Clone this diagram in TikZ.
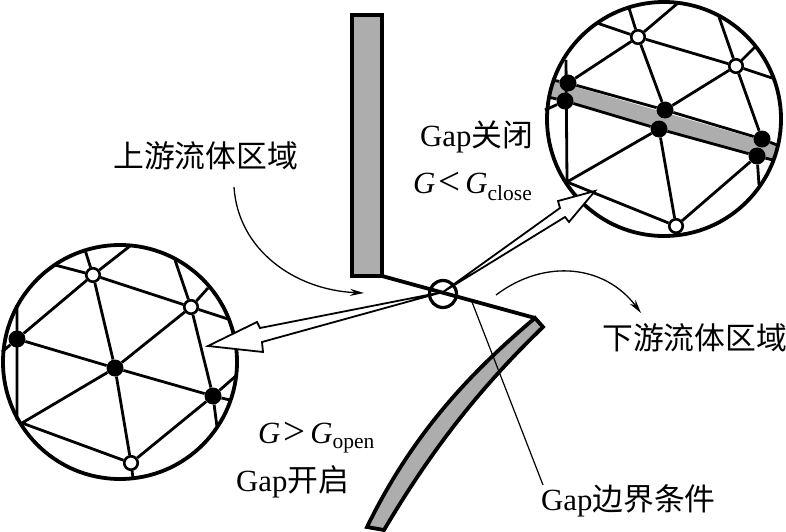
\documentclass[tikz,border=0pt]{standalone}
\usepackage{fontspec}
\setmainfont{Liberation Serif}
\newfontfamily\cjk{Noto Sans CJK SC}
\usetikzlibrary{arrows.meta}
\newcommand{\bigsz}{\fontsize{30.8}{32}\selectfont}
\newcommand{\subsz}{\fontsize{21.5}{24}\selectfont}
\newcommand{\relsym}[1]{\hspace{3pt}\raisebox{-1.5pt}{\fontsize{39}{39}\selectfont #1}\hspace{5pt}}
\tikzset{
  x=1pt,y=-1pt,
  openv/.style={circle,draw=black,fill=white,line width=2.6pt,minimum size=13.5pt,inner sep=0pt},
  blackv/.style={circle,fill=black,minimum size=17pt,inner sep=0pt},
  ring/.style={draw=black,line width=3.8pt},
  mesh/.style={draw=black,line width=2.8pt},
  wall/.style={draw=black,line width=3.8pt,fill=black!32,line join=miter},
  flow/.style={draw=black,line width=1.3pt,-{Stealth[length=14pt,width=7pt]}},
  hollow/.style={draw=black,line width=1.8pt,fill=white,line join=miter},
  label/.style={anchor=base west,inner sep=0pt,font=\bigsz},
}
\begin{document}
\begin{tikzpicture}
\useasboundingbox (0,0) rectangle (786,532);
% ---------- right detail circle
\fill[black!32] (552,80) -- (777,145) -- (773,160) -- (548,97) -- cycle;
\node[openv] (a1) at (638,37) {};
\node[openv] (a2) at (736,66) {};
\node[openv] (a3) at (676,226) {};
\node[blackv] (b1) at (568,83) {};
\node[blackv] (b2) at (565,101) {};
\node[blackv] (b3) at (665,110) {};
\node[blackv] (b4) at (659,129) {};
\node[blackv] (b5) at (762,139) {};
\node[blackv] (b6) at (757,156) {};
\coordinate (ac1) at (597,23);
\coordinate (ac2) at (629,8);
\coordinate (ac3) at (678,3);
\coordinate (ac4) at (719,17);
\coordinate (ac5) at (755,47);
\coordinate (ac6) at (772,78);
\coordinate (ac7) at (566,60);
\coordinate (ac8) at (567,182);
\coordinate (ac9) at (759,185);
\coordinate (ac10) at (545,110);
\coordinate (ac11) at (674,236);
\draw[mesh] (a1)--(ac1) (a1)--(ac2) (a1)--(ac3) (a1)--(a2) (a1)--(b1) (a1)--(b3);
\draw[mesh] (a2)--(ac4) (a2)--(ac5) (a2)--(ac6) (a2)--(b3) (a2)--(b5);
\draw[mesh] (ac7)--(ac8) (ac8)--(b4) (ac8)--(a3) (b4)--(a3) (a3)--(b6) (b6)--(ac9) (b2)--(ac10) (a3)--(ac11);
\draw[mesh] (b1)--(b3) (b3)--(b5) (b2)--(b4) (b4)--(b6) (552,80)--(b1) (b5)--(777,145) (b6)--(773,160) (548,97)--(b2);
\node[ring,circle,minimum size=234pt,inner sep=0pt] (topc) at (664,119) {};
% ---------- left detail circle
\node[openv] (c1) at (93,275) {};
\node[openv] (c2) at (191,307) {};
\node[openv] (c3) at (131,463) {};
\node[blackv] (d1) at (17,339) {};
\node[blackv] (d2) at (115,368) {};
\node[blackv] (d3) at (213,396) {};
\coordinate (cc1) at (55,265);
\coordinate (cc2) at (85,250);
\coordinate (cc3) at (130,246);
\coordinate (cc4) at (175,260);
\coordinate (cc5) at (208,288);
\coordinate (cc6) at (228,319);
\coordinate (cc7) at (2,352);
\coordinate (cc8) at (17,305);
\coordinate (cc9) at (17,420);
\coordinate (cc10) at (22,423);
\coordinate (cc11) at (237,375);
\coordinate (cc12) at (230,400);
\coordinate (cc13) at (217,427);
\coordinate (cc14) at (133,478);
\draw[mesh] (c1)--(cc1) (c1)--(cc2) (c1)--(cc3) (c1)--(c2) (c1)--(d1) (c1)--(d2);
\draw[mesh] (c2)--(cc4) (c2)--(cc5) (c2)--(cc6) (c2)--(d2) (c2)--(d3);
\draw[mesh] (d1)--(d2) (d2)--(d3) (d1)--(cc7) (cc8)--(cc9) (cc10)--(d2) (cc10)--(c3) (d2)--(c3) (c3)--(d3) (d3)--(cc11) (d3)--(cc12) (d3)--(cc13) (c3)--(cc14);
\node[ring,circle,minimum size=234pt,inner sep=0pt] (leftc) at (120,362) {};
% ---------- walls
\coordinate (gapc) at (443,292);
\node[wall,rectangle,minimum width=30pt,minimum height=261pt,inner sep=0pt] (upwall) at (367,145.5) {};
\coordinate (wallfoot) at (382,276);
\coordinate (flaptop) at (535,318);
\coordinate (flapend) at (543,327);
\coordinate (flapbl) at (367,527);
\coordinate (flapbr) at (384,530);
\draw[wall] (flaptop) .. controls (470,373) and (413,433) .. (flapbl) -- (flapbr)
  .. controls (436,442) and (486,382) .. (flapend) -- cycle;
\draw[draw=black,line width=3.8pt] (wallfoot) -- (flaptop);
\node[draw=black,line width=3.2pt,circle,minimum size=27pt,inner sep=0pt] (gapring) at (443,294) {};
% ---------- hollow arrows
\coordinate (ltip) at (208,346);
\coordinate (rtip) at (595,191);
\draw[hollow] (gapc) -- (260,328) -- (257,322) -- (ltip) -- (263,352) -- (262,342) -- cycle;
\draw[hollow] (gapc) -- (560,208) -- (558,201) -- (rtip) -- (569,222) -- (565,217) -- cycle;
% ---------- flow arrows
\coordinate (f1s) at (234,187);
\coordinate (f1e) at (364,293);
\coordinate (f2s) at (496,295);
\coordinate (f2e) at (641,313);
\draw[flow] (f1s) .. controls (238,250) and (295,290) .. (f1e);
\draw[flow] (f2s) .. controls (545,258) and (605,265) .. (f2e);
% ---------- leader
\coordinate (gapline) at (472,302);
\coordinate (gaptext) at (543,485);
\draw[line width=1.2pt] (gapline) -- (gaptext);
% ---------- labels
\node[label] (t1) at (113,167) {\cjk 上游流体区域};
\node[label] (t2) at (602,349) {\cjk 下游流体区域};
\node[label] (t3) at (420,146) {Gap{\cjk 关闭}};
\node[label] (t4) at (413,193) {\textit{G}\relsym{<}\textit{G}\raisebox{-7pt}{\subsz close}};
\node[label] (t5) at (258,443) {\textit{G}\relsym{>}\textit{G}\raisebox{-5pt}{\subsz open}};
\node[label] (t6) at (236,491) {Gap{\cjk 开启}};
\node[label] (t7) at (541,510) {Gap{\cjk 边界条件}};
\end{tikzpicture}
\end{document}
